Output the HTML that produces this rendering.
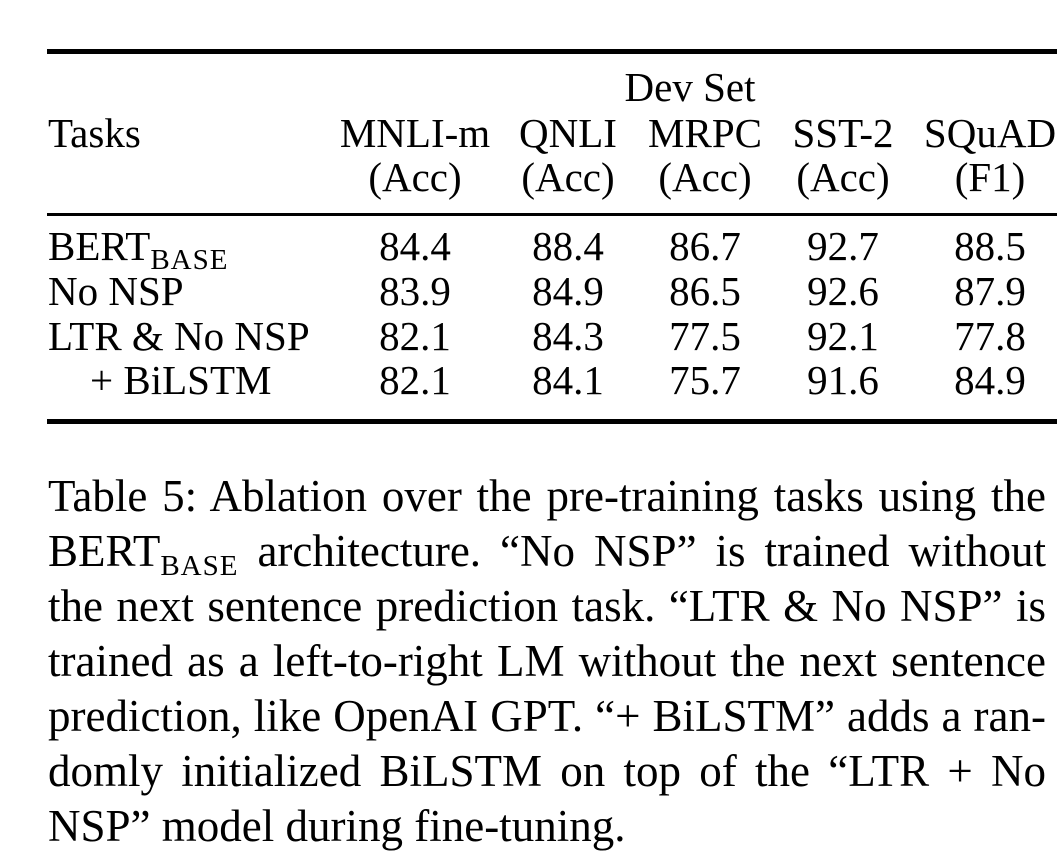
<!DOCTYPE html>
<html><head><meta charset="utf-8"><style>
body{margin:0;background:#fff;width:1064px;height:856px;position:relative;overflow:hidden;font-family:"Liberation Serif",serif;color:#000}
.t{position:absolute;font-size:41px;line-height:40px;white-space:nowrap}
.c{transform:translateX(-50%)}
.r{position:absolute;left:47px;width:1010px;background:#000}
.cap{position:absolute;left:48px;width:998px;font-size:45px;line-height:42px;text-align:justify;text-align-last:justify;white-space:nowrap}
.sub{font-size:29px;position:relative;top:9px;letter-spacing:1px}
</style></head><body>
<div class="r" style="top:49px;height:5px"></div>
<div class="r" style="top:213px;height:3px"></div>
<div class="r" style="top:419px;height:5px"></div>

<div class="t c" style="left:690px;top:67px">Dev Set</div>
<div class="t" style="left:48px;top:113px">Tasks</div>
<div class="t c" style="left:415px;top:113px">MNLI-m</div>
<div class="t c" style="left:568px;top:113px">QNLI</div>
<div class="t c" style="left:705px;top:113px">MRPC</div>
<div class="t c" style="left:843px;top:113px">SST-2</div>
<div class="t c" style="left:990px;top:113px">SQuAD</div>
<div class="t c" style="left:415px;top:157px">(Acc)</div>
<div class="t c" style="left:568px;top:157px">(Acc)</div>
<div class="t c" style="left:705px;top:157px">(Acc)</div>
<div class="t c" style="left:843px;top:157px">(Acc)</div>
<div class="t c" style="left:990px;top:157px">(F1)</div>

<div class="t" style="left:48px;top:226px">BERT<span class="sub">BASE</span></div>
<div class="t" style="left:48px;top:271px">No NSP</div>
<div class="t" style="left:48px;top:316px">LTR &amp; No NSP</div>
<div class="t" style="left:90px;top:360px">+ BiLSTM</div>

<div class="t c" style="left:415px;top:226px">84.4</div><div class="t c" style="left:568px;top:226px">88.4</div><div class="t c" style="left:705px;top:226px">86.7</div><div class="t c" style="left:843px;top:226px">92.7</div><div class="t c" style="left:990px;top:226px">88.5</div>
<div class="t c" style="left:415px;top:271px">83.9</div><div class="t c" style="left:568px;top:271px">84.9</div><div class="t c" style="left:705px;top:271px">86.5</div><div class="t c" style="left:843px;top:271px">92.6</div><div class="t c" style="left:990px;top:271px">87.9</div>
<div class="t c" style="left:415px;top:316px">82.1</div><div class="t c" style="left:568px;top:316px">84.3</div><div class="t c" style="left:705px;top:316px">77.5</div><div class="t c" style="left:843px;top:316px">92.1</div><div class="t c" style="left:990px;top:316px">77.8</div>
<div class="t c" style="left:415px;top:360px">82.1</div><div class="t c" style="left:568px;top:360px">84.1</div><div class="t c" style="left:705px;top:360px">75.7</div><div class="t c" style="left:843px;top:360px">91.6</div><div class="t c" style="left:990px;top:360px">84.9</div>

<div class="cap" style="top:475px">Table 5: Ablation over the pre-training tasks using the</div>
<div class="cap" style="top:530px">BERT<span class="sub">BASE</span> architecture. “No NSP” is trained without</div>
<div class="cap" style="top:585px">the next sentence prediction task. “LTR &amp; No NSP” is</div>
<div class="cap" style="top:640px">trained as a left-to-right LM without the next sentence</div>
<div class="cap" style="top:695px">prediction, like OpenAI GPT. “+ BiLSTM” adds a ran-</div>
<div class="cap" style="top:750px">domly initialized BiLSTM on top of the “LTR + No</div>
<div class="cap" style="top:805px;text-align:left;text-align-last:left">NSP” model during fine-tuning.</div>
</body></html>
